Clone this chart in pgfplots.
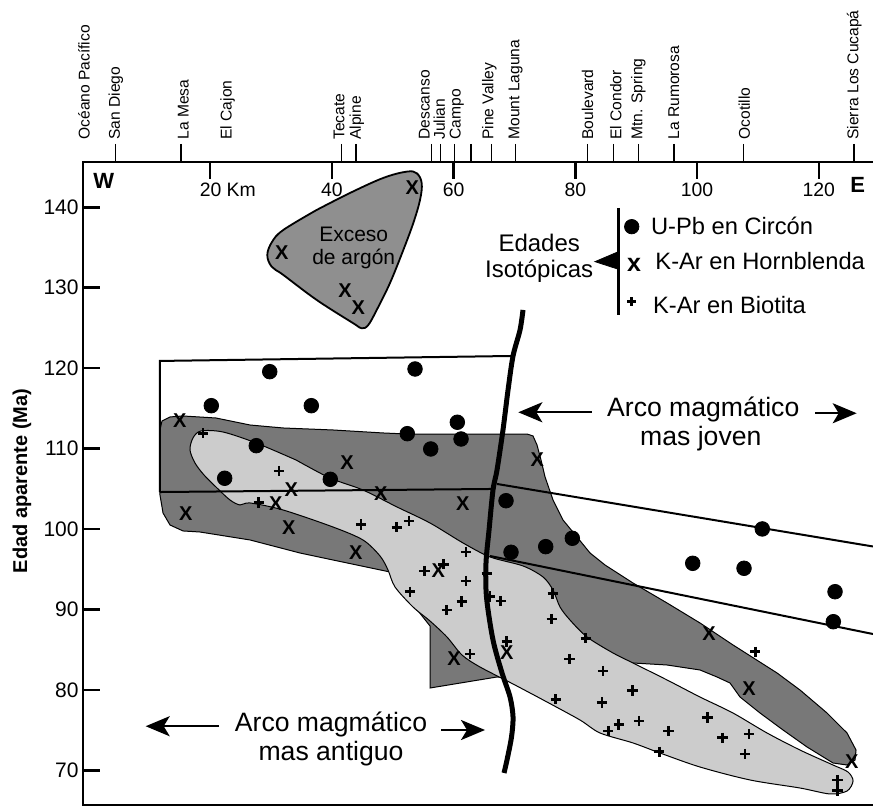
\documentclass[border=0pt]{standalone}
\usepackage{fontspec}
\setmainfont{Liberation Sans}
\usepackage{pgfplots}
\pgfplotsset{compat=1.18}
\usetikzlibrary{arrows.meta}
\definecolor{argon}{gray}{0.56}
\definecolor{darkreg}{gray}{0.47}
\definecolor{lightreg}{gray}{0.80}
\newcommand\fs[1]{\fontsize{#1}{#1}\selectfont}
\tikzset{town/.style={rotate=90, anchor=west, inner sep=0pt, font=\fs{7.8}}}
\begin{document}
\begin{tikzpicture}
\path[use as bounding box] (-41.5pt,-1.5pt) rectangle (395pt,402.5pt);
\begin{axis}[
  at={(0,0)}, anchor=south west,
  scale only axis, width=396.5pt, height=321.5pt,
  xmin=-0.887, xmax=129.39, ymin=65.71, ymax=145.63,
  clip=false,
  axis line style={line width=1.35pt},
  xtick={20,40,...,120}, xticklabel={\empty},
  xtick pos=right, ytick pos=left,
  tick align=inside,
  major tick length=8.5pt,
  tick style={black, line width=1.3pt},
  ytick={70,80,...,140},
  /pgf/number format/assume math mode=true,
  yticklabel style={font=\fs{10.5}, inner xsep=2pt},
  extra x ticks={4.49,15.21,41.61,43.96,56.40,57.88,60.18,62.86,66.26,70.14,82.03,86.24,90.34,96.21,107.59,125.78},
  extra x tick style={tick align=outside, major tick length=9pt, xticklabel={\empty}, tick style={black, line width=0.65pt}},
]
% dark region
\addplot[fill=darkreg, draw=black, line width=0.5pt] coordinates {
(26.55,112.94)(31.97,112.57)(40.19,112.32)(48.40,111.95)(52.34,111.82)(61.54,111.82)(72.06,111.82)(73.04,111.58)(73.70,110.46)(74.36,108.59)(75.02,106.48)(76.33,103.62)(77.97,101.13)(80.27,99.02)(82.41,97.03)(84.87,95.54)(89.47,93.30)(95.06,90.82)(100.48,88.33)(105.90,85.60)(113.13,82.12)(116.91,80.00)(121.35,77.14)(124.63,74.66)(126.11,72.54)(125.95,71.30)(124.63,70.68)(122.33,70.93)(118.06,72.92)(114.12,75.03)(110.34,77.14)(107.05,79.13)(105.41,80.87)(103.27,81.62)(100.48,82.49)(95.06,83.11)(89.47,83.36)(86.51,83.11)(84.05,81.49)(77.48,81.25)(70.91,81.49)(67.13,81.62)(56.12,80.25)(56.12,87.96)(51.19,92.68)(49.55,94.67)(40.19,96.16)(34.76,97.03)(26.55,98.65)(18.33,99.64)(15.54,99.77)(13.41,100.51)(12.26,102.00)(11.76,104.24)(11.76,112.32)(12.09,113.44)(13.41,113.94)(15.54,114.06)(20.96,113.81)(26.55,112.94)
} -- cycle;
% light region
\addplot[fill=lightreg, draw=black, line width=0.5pt, smooth, tension=0.5] coordinates {
(34.11,108.59)(39.69,106.35)(45.11,104.86)(50.70,102.75)(56.12,100.76)(61.54,98.28)(65.98,96.54)(71.40,95.42)(74.69,94.05)(76.33,92.43)(77.48,90.32)(79.12,88.70)(81.92,86.59)(86.19,84.60)(89.47,83.36)(95.06,81.25)(100.48,79.13)(105.90,77.14)(111.49,74.66)(116.91,72.54)(122.33,70.68)(124.79,69.81)(125.62,68.69)(124.63,67.45)(121.84,67.08)(116.91,67.82)(108.69,68.82)(100.48,70.43)(93.91,72.17)(89.47,73.42)(84.05,74.66)(80.77,76.27)(75.34,78.51)(69.76,80.75)(64.34,82.86)(61.38,84.35)(58.91,86.59)(56.12,88.58)(53.33,90.32)(50.37,92.81)(49.22,94.92)(47.91,96.66)(45.11,98.65)(40.19,100.26)(31.97,102.38)(26.55,103.25)(24.91,103.00)(23.26,103.62)(21.13,105.11)(18.99,106.73)(17.51,108.22)(16.69,109.84)(17.18,111.33)(18.50,112.20)(22.11,112.07)(27.54,110.71)(34.11,108.59)
} -- cycle;
% argon excess
\addplot[fill=argon, draw=black, line width=0.9pt, smooth, tension=0.6] coordinates {
(37.51,139.67)(42.98,141.78)(48.45,143.65)(52.29,144.43)(53.94,144.23)(54.76,142.99)(54.48,140.91)(53.38,138.05)(51.74,134.70)(49.55,130.59)(47.37,127.24)(45.98,125.37)(44.90,124.96)(43.52,125.58)(37.51,128.48)(32.02,131.59)(30.11,132.62)(29.39,134.07)(30.16,135.69)(32.02,137.18)(37.51,139.67)
} -- cycle;
% box and lines
\addplot[black, line width=1pt] coordinates {(11.76,104.61)(11.76,120.90)(69.76,121.52)};
\addplot[black, line width=1pt] coordinates {(11.76,104.61)(66.47,104.99)};
\addplot[black, line width=1pt] coordinates {(67.13,105.61)(128.90,97.84)};
\addplot[black, line width=1pt] coordinates {(65.98,96.66)(128.90,86.96)};
% thick boundary
\addplot[black, line width=2.5pt, smooth] coordinates {(71.40,127.24)(70.91,124.75)(69.76,121.52)(68.94,117.29)(68.11,112.32)(67.13,107.35)(66.47,104.86)(65.82,99.89)(65.32,95.79)(65.40,91.56)(66.47,86.22)(67.95,82.12)(69.27,79.13)(69.76,76.65)(69.51,74.16)(68.77,71.30)(68.28,69.69)};
% U-Pb zircon
\addplot[only marks, mark=*, mark size=3.65pt, black] coordinates {(29.79,119.57)(20.19,115.34)(36.62,115.34)(27.58,110.37)(22.39,106.32)(39.74,106.19)(53.66,119.90)(60.61,113.28)(52.39,111.86)(61.22,111.20)(56.24,109.96)(68.61,103.53)(69.43,97.12)(75.13,97.82)(79.50,98.86)(110.71,100.02)(99.28,95.75)(107.71,95.13)(122.66,92.22)(122.38,88.49)};
% K-Ar hornblende
\addplot[only marks, mark=text, text mark={X}, text mark as node=true, text mark style={font=\fs{10}\bfseries, inner sep=0pt}] coordinates {(53.21,142.44)(31.76,134.41)(42.16,129.60)(44.34,127.52)(15.00,113.44)(42.49,108.22)(33.33,104.95)(30.77,103.12)(15.99,101.97)(32.91,100.18)(43.91,97.12)(48.02,104.45)(61.49,103.12)(73.75,108.68)(57.49,94.83)(60.06,83.94)(68.72,84.64)(101.96,86.96)(108.53,80.21)(125.40,71.09)};
% K-Ar biotite
\addplot[only marks, mark=+, mark size=2.6pt, mark options={line width=1.45pt}, black] coordinates {(18.83,111.91)(31.31,107.22)(27.98,103.33)(44.79,100.55)(50.65,100.23)(52.67,101.01)(62.04,97.16)(55.19,94.79)(58.31,95.63)(62.04,93.55)(65.44,94.51)(52.84,92.22)(61.33,90.98)(58.87,89.95)(65.98,91.60)(67.74,91.07)(76.28,92.02)(76.12,88.83)(81.70,86.43)(68.72,86.01)(62.69,84.48)(79.01,83.86)(84.54,82.37)(89.36,79.94)(76.77,78.85)(84.38,78.45)(87.12,75.69)(85.41,74.91)(90.46,76.15)(95.27,74.91)(93.78,72.33)(101.74,76.56)(104.14,74.07)(108.53,74.53)(107.87,72.05)(109.52,84.76)(123.04,68.82)(123.04,67.49)};
% legend
\addplot[black, line width=1.5pt] coordinates {(87.06,139.92)(87.06,126.62)};
\addplot[fill=black, draw=black] coordinates {(83.23,133.24)(87.06,134.48)(87.06,132.30)} -- cycle;
\addplot[only marks, mark=*, mark size=3.6pt, black] coordinates {(89.26,137.59)};
\addplot[only marks, mark=text, text mark={x}, text mark as node=true, text mark style={font=\fs{12.5}\bfseries, inner sep=0pt}] coordinates {(89.64,132.83)};
\addplot[only marks, mark=+, mark size=2.2pt, mark options={line width=1.4pt}, black] coordinates {(89.26,128.27)};
\node[anchor=base west, inner sep=0pt, font=\fs{11.85}] at (axis cs:92.38,136.56) {U-Pb en Circón};
\node[anchor=base west, inner sep=0pt, font=\fs{11.85}] at (axis cs:93.09,132.21) {K-Ar en Hornblenda};
\node[anchor=base west, inner sep=0pt, font=\fs{11.85}] at (axis cs:92.71,126.83) {K-Ar en Biotita};
\node[anchor=base, inner sep=0pt, font=\fs{12}] at (axis cs:74.06,134.48) {Edades};
\node[anchor=base, inner sep=0pt, font=\fs{12}] at (axis cs:74.06,131.30) {Isotópicas};
\node[anchor=base, inner sep=0pt, font=\fs{10.5}] at (axis cs:43.59,135.73) {Exceso};
\node[anchor=base, inner sep=0pt, font=\fs{10.5}] at (axis cs:43.59,132.89) {de argón};
% arc annotations
\node[anchor=base, inner sep=0pt, font=\fs{13.3}] at (axis cs:101.01,113.97) {Arco magmático};
\node[anchor=base, inner sep=0pt, font=\fs{13.3}] at (axis cs:100.61,110.33) {mas joven};
\node[anchor=base, inner sep=0pt, font=\fs{13.3}] at (axis cs:39.86,74.82) {Arco magmático};
\node[anchor=base, inner sep=0pt, font=\fs{13.3}] at (axis cs:39.86,71.30) {mas antiguo};
\addplot[black, line width=1.2pt, -{Stealth[length=12pt,width=10pt,inset=3pt]}] coordinates {(82.69,114.52)(70.63,114.52)};
\addplot[black, line width=1.2pt, -{Stealth[length=12pt,width=10pt,inset=3pt]}] coordinates {(119.37,114.40)(126.22,114.40)};
\addplot[black, line width=1.2pt, -{Stealth[length=12pt,width=10pt,inset=3pt]}] coordinates {(21.46,75.50)(9.41,75.50)};
\addplot[black, line width=1.2pt, -{Stealth[length=12pt,width=10pt,inset=3pt]}] coordinates {(57.93,75.03)(65.16,75.03)};
% top axis labels
\node[anchor=base west, inner sep=0pt, font=\fs{11}\bfseries] at (axis cs:0.76,142.28) {W};
\node[anchor=base west, inner sep=0pt, font=\fs{11}\bfseries] at (axis cs:125.12,141.78) {E};
\node[anchor=base west, inner sep=0pt, font=\fs{9.7}, xshift=-5.39pt] at (axis cs:20,141.28) {20 Km};
\node[anchor=base, inner sep=0pt, font=\fs{9.7}] at (axis cs:40,141.28) {40};
\node[anchor=base, inner sep=0pt, font=\fs{9.7}] at (axis cs:60,141.28) {60};
\node[anchor=base, inner sep=0pt, font=\fs{9.7}] at (axis cs:80,141.28) {80};
\node[anchor=base, inner sep=0pt, font=\fs{9.7}] at (axis cs:100,141.28) {100};
\node[anchor=base, inner sep=0pt, font=\fs{9.7}] at (axis cs:120,141.28) {120};
\node[town] at ([yshift=11pt]axis cs:-0.72,145.63) {Océano Pacífico};
\node[town] at ([yshift=11pt]axis cs:4.50,145.63) {San Diego};
\node[town] at ([yshift=11pt]axis cs:15.59,145.63) {La Mesa};
\node[town] at ([yshift=11pt]axis cs:22.85,145.63) {El Cajon};
\node[town] at ([yshift=11pt]axis cs:41.20,145.63) {Tecate};
\node[town] at ([yshift=11pt]axis cs:44.08,145.63) {Alpine};
\node[town] at ([yshift=11pt]axis cs:55.17,145.63) {Descanso};
\node[town] at ([yshift=11pt]axis cs:57.63,145.63) {Julian};
\node[town] at ([yshift=11pt]axis cs:60.51,145.63) {Campo};
\node[town] at ([yshift=11pt]axis cs:65.85,145.63) {Pine Valley};
\node[town] at ([yshift=11pt]axis cs:70.17,145.63) {Mount Laguna};
\node[town] at ([yshift=11pt]axis cs:82.00,145.63) {Boulevard};
\node[town] at ([yshift=11pt]axis cs:86.65,145.63) {El Condor};
\node[town] at ([yshift=11pt]axis cs:90.33,145.63) {Mtn. Spring};
\node[town] at ([yshift=11pt]axis cs:96.16,145.63) {La Rumorosa};
\node[town] at ([yshift=11pt]axis cs:107.74,145.63) {Ocotillo};
\node[town] at ([yshift=11pt]axis cs:125.81,145.63) {Sierra Los Cucapá};
\node[rotate=90, anchor=south, inner sep=0pt, font=\fs{10}\bfseries] at ([xshift=-25.6pt]axis cs:-0.887,105.98) {Edad aparente (Ma)};
\end{axis}
\end{tikzpicture}
\end{document}
